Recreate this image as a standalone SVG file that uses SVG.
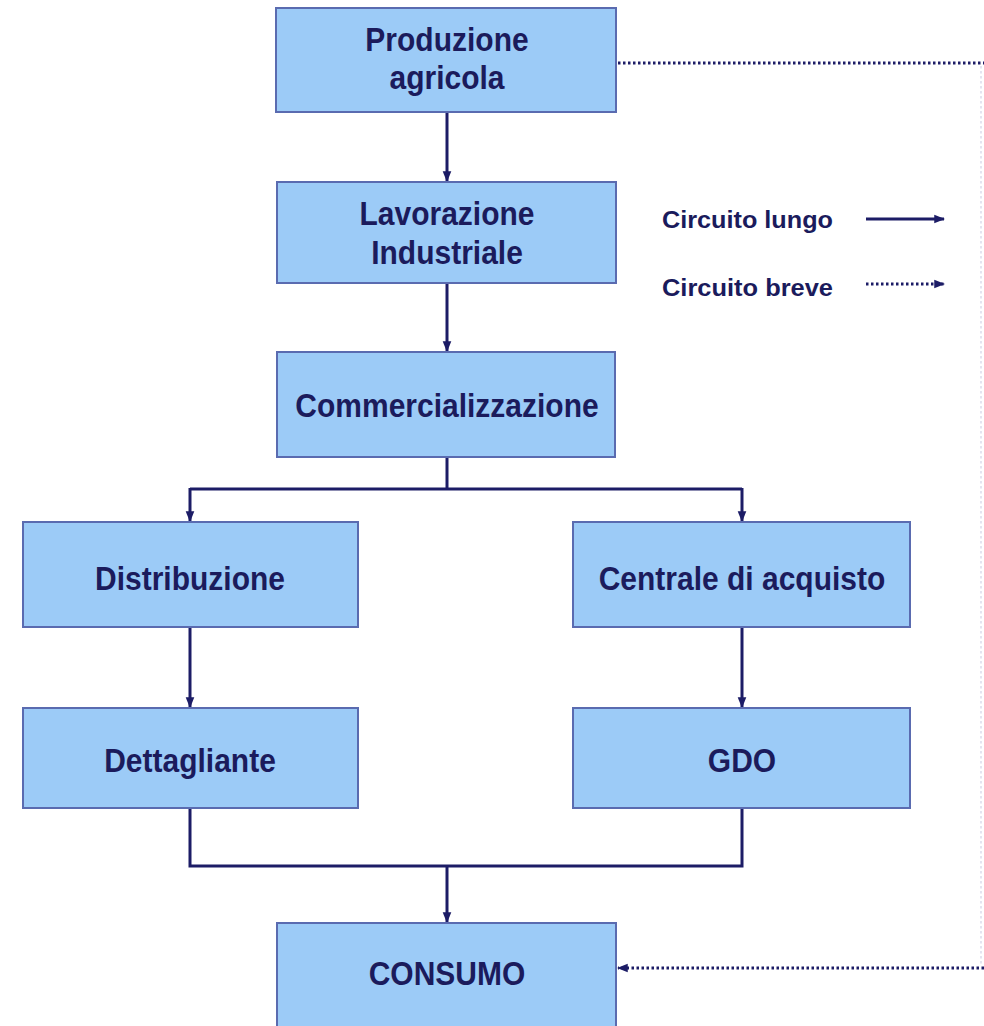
<svg xmlns="http://www.w3.org/2000/svg" width="984" height="1026" viewBox="0 0 984 1026">
<style>
.box{fill:#9ccbf7;stroke:#5a6bb0;stroke-width:2}
.t{font-family:"Liberation Sans",Arial,sans-serif;font-weight:bold;font-size:30px;fill:#1b1b5c;text-anchor:middle}
.lg{font-family:"Liberation Sans",Arial,sans-serif;font-weight:bold;font-size:23px;fill:#1b1b5c}
.c{fill:none;stroke:#1c1c66;stroke-width:3}
.d{fill:none;stroke:#1c1c66;stroke-width:3;stroke-dasharray:2.5 2.5}
</style>
<defs>
<marker id="ah" viewBox="0 0 10 10" refX="9" refY="5" markerWidth="3.6" markerHeight="3.6" orient="auto" markerUnits="strokeWidth">
<path d="M0,1 L10,5 L0,9 Z" fill="#1c1c66"/>
</marker>
</defs>
<rect width="984" height="1026" fill="#ffffff"/>
<g id="connectors">
<line class="c" x1="447" y1="112" x2="447" y2="181" marker-end="url(#ah)"/>
<line class="c" x1="447" y1="283" x2="447" y2="351" marker-end="url(#ah)"/>
<path class="c" d="M447,457 V489"/>
<path class="c" d="M190,489 H742"/>
<line class="c" x1="190" y1="488" x2="190" y2="521" marker-end="url(#ah)"/>
<line class="c" x1="742" y1="488" x2="742" y2="521" marker-end="url(#ah)"/>
<line class="c" x1="190" y1="627" x2="190" y2="707" marker-end="url(#ah)"/>
<line class="c" x1="742" y1="627" x2="742" y2="707" marker-end="url(#ah)"/>
<path class="c" d="M190,808 V866 H742 V808"/>
<line class="c" x1="447" y1="866" x2="447" y2="922" marker-end="url(#ah)"/>
<path class="d" d="M618,63 H984"/>
<path d="M981,66 V965" fill="none" stroke="#e4e4f0" stroke-width="2" stroke-dasharray="2.5 2.5"/>
<line class="d" x1="984" y1="968" x2="618" y2="968" marker-end="url(#ah)"/>
<line class="c" x1="866" y1="219" x2="944" y2="219" marker-end="url(#ah)"/>
<line class="d" x1="866" y1="284" x2="944" y2="284" marker-end="url(#ah)"/>
</g>
<g id="legend">
<text class="lg" x="662" y="228" textLength="171" lengthAdjust="spacingAndGlyphs">Circuito lungo</text>
<text class="lg" x="662" y="296" textLength="171" lengthAdjust="spacingAndGlyphs">Circuito breve</text>
</g>
<g id="produzione">
<rect class="box" x="276" y="8" width="340" height="104"/>
<text class="t" transform="translate(447,51) scale(1,1.12)">Produzione</text>
<text class="t" transform="translate(447,89) scale(1,1.12)">agricola</text>
</g>
<g id="lavorazione">
<rect class="box" x="277" y="182" width="339" height="101"/>
<text class="t" transform="translate(447,225) scale(1,1.12)">Lavorazione</text>
<text class="t" transform="translate(447,264) scale(1,1.12)">Industriale</text>
</g>
<g id="commercializzazione">
<rect class="box" x="277" y="352" width="338" height="105"/>
<text class="t" transform="translate(447,417) scale(1,1.12)">Commercializzazione</text>
</g>
<g id="distribuzione">
<rect class="box" x="23" y="522" width="335" height="105"/>
<text class="t" transform="translate(190,590) scale(1,1.12)">Distribuzione</text>
</g>
<g id="centrale">
<rect class="box" x="573" y="522" width="337" height="105"/>
<text class="t" transform="translate(742,590) scale(1,1.12)">Centrale di acquisto</text>
</g>
<g id="dettagliante">
<rect class="box" x="23" y="708" width="335" height="100"/>
<text class="t" transform="translate(190,772) scale(1,1.12)">Dettagliante</text>
</g>
<g id="gdo">
<rect class="box" x="573" y="708" width="337" height="100"/>
<text class="t" transform="translate(742,772) scale(1,1.12)">GDO</text>
</g>
<g id="consumo">
<rect class="box" x="277" y="923" width="339" height="110"/>
<text class="t" transform="translate(447,985) scale(1,1.12)">CONSUMO</text>
</g>
</svg>
